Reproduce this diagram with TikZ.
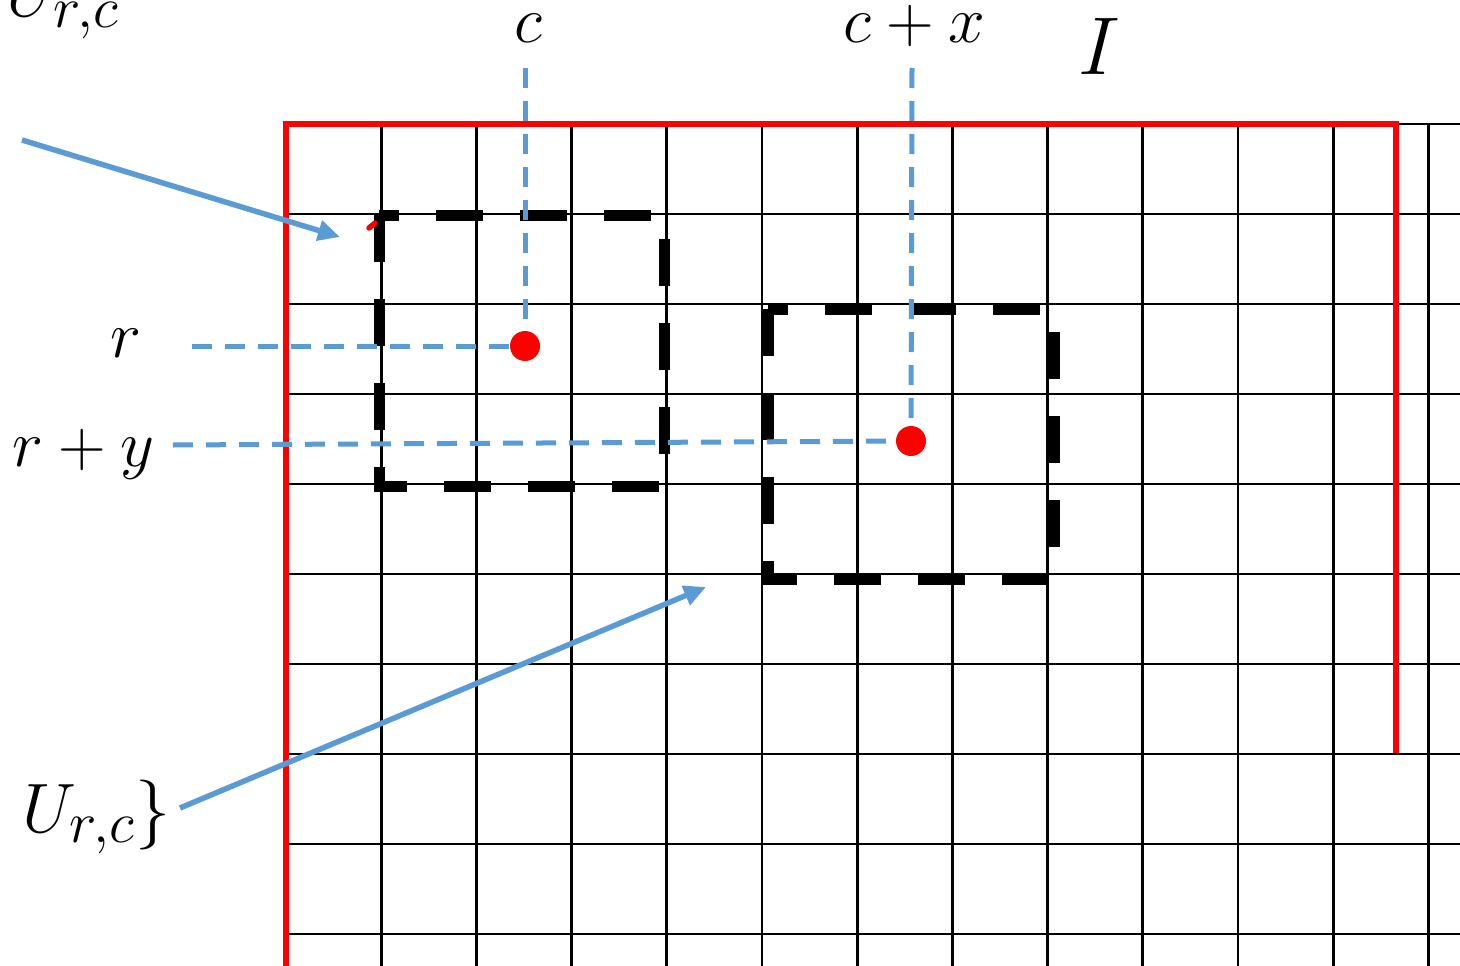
\documentclass[tikz,border=0pt]{standalone}
\usetikzlibrary{arrows.meta}
\definecolor{myblue}{HTML}{5B9BD5}
\definecolor{myred}{HTML}{FF0000}
\begin{document}
\begin{tikzpicture}[x=1pt,y=-1pt,
 gridline/.style={black,line width=2.7pt},
 frame/.style={myred,line width=5.5pt},
 win/.style={black,line width=11pt,dash pattern=on 47pt off 37pt},
 guide/.style={myblue,line width=5pt,dash pattern=on 20pt off 13pt},
 pointer/.style={myblue,line width=5.5pt,-{Triangle[length=22pt,width=20pt]}},
 dot/.style={circle,fill=myred,inner sep=0pt,minimum size=30pt},
 lbl/.style={inner sep=0pt,font=\Huge,scale=2.653},
 ulbl/.style={inner sep=0pt,font=\Huge,scale=2.813}]
\useasboundingbox (0,0) rectangle (1460,966);
% grid
\foreach \i in {0,...,12} \draw[gridline] ({286+95.2*\i},124) -- ({286+95.2*\i},975);
\foreach \j in {0,...,9} \draw[gridline] (286,{124+90*\j}) -- (1470,{124+90*\j});
% red frame
\draw[frame] (286,975) -- (286,124) -- (1396,124) -- (1396,753);
% dashed windows
\draw[win] (379,215) -- (379,486) -- (664,486) -- (664,215) -- cycle;
\draw[win] (768,309) -- (768,579) -- (1054,579) -- (1054,309) -- cycle;
% guides
\coordinate (p1) at (525,346);
\coordinate (p2) at (911,441);
\coordinate (c1top) at (525,68);
\coordinate (r1left) at (192,346);
\coordinate (c2top) at (912,68);
\coordinate (r2left) at (173,445);
\draw[guide] (c1top) -- (p1);
\draw[guide] (r1left) -- (p1);
\draw[guide] (c2top) -- (p2);
\draw[guide] (r2left) -- (p2);
\node[dot] (d1) at (p1) {};
\node[dot] (d2) at (p2) {};
% red mark
\draw[myred,line width=5.5pt,line cap=round] (369,228) -- (375,223);
% labels
\node[lbl,anchor=base west] (lc) at (514,43) {$c$};
\node[lbl,anchor=base west] (lcx) at (843,43) {$c+x$};
\node[inner sep=0pt,font=\Huge,scale=3.296,anchor=base west] (lI) at (1078,75) {$I$};
\node[lbl,anchor=base west] (lr) at (110,357) {$r$};
\node[lbl,anchor=base west] (lry) at (12,466) {$r+y$};
\node[ulbl,anchor=base west] (lu) at (22,832) {$U_{r,c}\}$};
\node[ulbl,anchor=base east] (lin) at (120,17) {$\in U_{r,c}$};
% arrows
\coordinate (a1s) at (22,140);
\coordinate (a1e) at (340,237);
\coordinate (a2s) at (180,808);
\coordinate (a2e) at (706,587);
\draw[pointer] (a1s) -- (a1e);
\draw[pointer] (a2s) -- (a2e);
\end{tikzpicture}
\end{document}
